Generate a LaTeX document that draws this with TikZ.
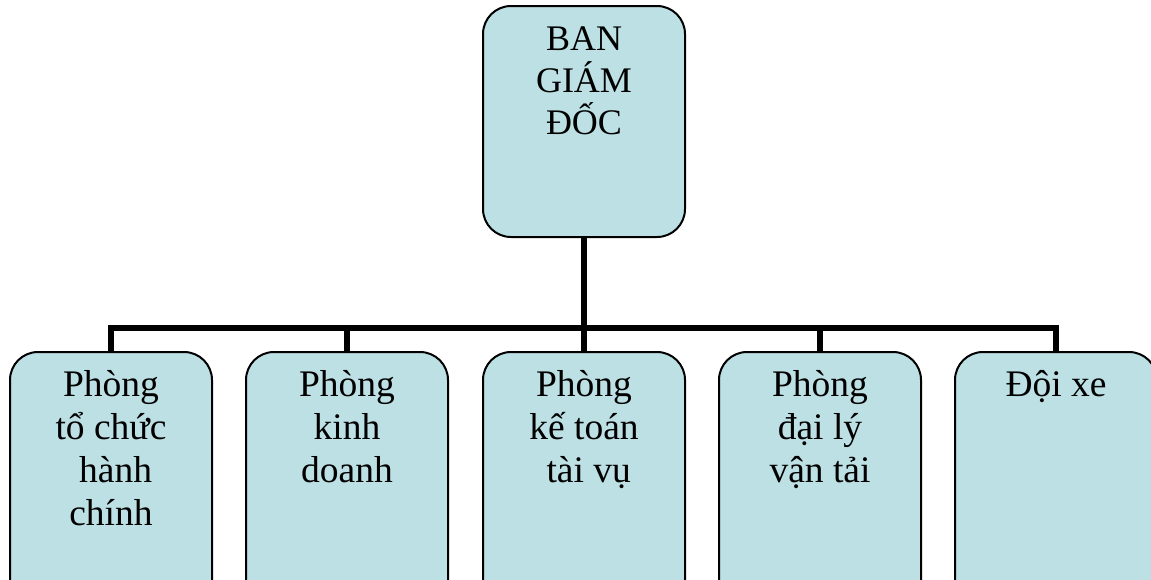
\documentclass[tikz,border=0pt]{standalone}
\usepackage{fontspec}
\setmainfont{Liberation Serif}
\definecolor{boxfill}{RGB}{188,224,228}
\begin{document}
\begin{tikzpicture}[x=1pt,y=-1pt,
  orgbox/.style={draw=black,line width=2pt,fill=boxfill,rounded corners=28pt,
    minimum width=202pt,inner sep=0pt},
  label/.style={anchor=north,align=center,inner sep=0pt},
  headtext/.style={label,font=\fontsize{36}{42}\selectfont},
  depttext/.style={label,font=\fontsize{37.5}{43}\selectfont},
  conn/.style={line width=6pt,line join=miter}]
\useasboundingbox (0,0) rectangle (1151,579);
\clip (0,0) rectangle (1151,579);
% head office box
\node[orgbox,minimum height=231pt] (top) at (584,121.5) {};
% department boxes (run past the lower edge)
\node[orgbox,minimum height=258pt] (b1) at (111,481) {};
\node[orgbox,minimum height=258pt] (b2) at (347,481) {};
\node[orgbox,minimum height=258pt] (b3) at (584,481) {};
\node[orgbox,minimum height=258pt] (b4) at (820,481) {};
\node[orgbox,minimum height=258pt] (b5) at (1056,481) {};
% connectors
\coordinate (bus) at (584,328);
\draw[conn] (top.south) -- (b3.north);
\draw[conn] (b1.north) |- (bus) -| (b5.north);
\draw[conn] (b2.north) -- (b2.north |- bus);
\draw[conn] (b4.north) -- (b4.north |- bus);
% texts
\node[headtext] (t0) at ([yshift=-22pt]top.north) {BAN\\GIÁM\\ĐỐC};
\node[depttext] (t1) at ([yshift=-19pt]b1.north) {Phòng\\tổ chức\\\hspace{0.25em}hành\\chính};
\node[depttext] (t2) at ([yshift=-19pt]b2.north) {Phòng\\kinh\\doanh};
\node[depttext] (t3) at ([yshift=-19pt]b3.north) {Phòng\\kế toán\\\hspace{0.25em}tài vụ};
\node[depttext] (t4) at ([yshift=-19pt]b4.north) {Phòng\\đại lý\\vận tải};
\node[depttext] (t5) at ([yshift=-19pt]b5.north) {Đội xe};
\end{tikzpicture}
\end{document}
